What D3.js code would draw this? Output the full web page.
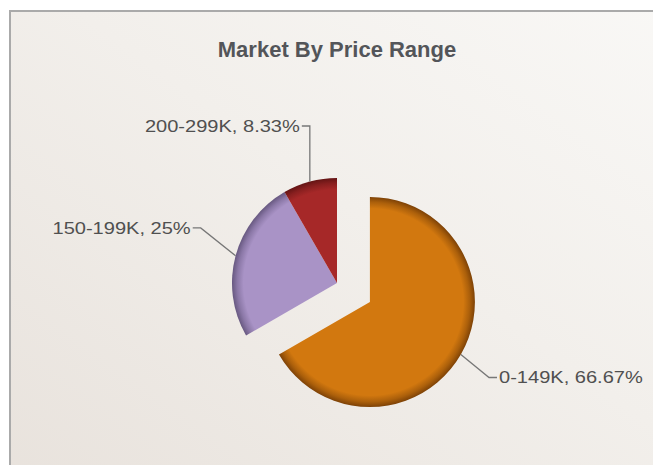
<!DOCTYPE html>
<html>
<head>
<meta charset="utf-8">
<script src="https://cdn.jsdelivr.net/npm/d3@7"></script>
<style>
  body { margin: 0; background: #fff; }
  svg { display: block; }
</style>
</head>
<body>
<div class="pie-chart-container"></div>
<script>
// chart data
const categories = ['0-149K', '150-199K', '200-299K'];
const shares = [66.67, 25, 8.33];
const chartTitle = 'Market By Price Range';

// slice styles
const sliceColors = ['#d2780f', '#a993c6', '#a62828'];
const rimColors = ['#7e4206', '#675880', '#641414'];

// layout
const width = 653;
const height = 465;
const center = {x: 337, y: 283};
const radius = 105;
const explodeIndex = 0;
const explodeDist = 38;
const labelRadius = 147;
const labelNudgeX = [-7, 0, 0];
const labelNudgeY = [2, -17, -15];

const svg = d3.select('.pie-chart-container')
  .append('svg')
  .attr('width', width)
  .attr('height', height);

const defs = svg.append('defs');

// panel background
const bg = defs.append('linearGradient')
  .attr('id', 'panel-bg')
  .attr('x1', 0).attr('y1', 1)
  .attr('x2', 1).attr('y2', 0);
bg.append('stop').attr('offset', '0%').attr('stop-color', '#e8e2dc');
bg.append('stop').attr('offset', '55%').attr('stop-color', '#f2efeb');
bg.append('stop').attr('offset', '100%').attr('stop-color', '#f9f8f6');

svg.append('rect')
  .attr('x', 10)
  .attr('y', 11)
  .attr('width', width + 20)
  .attr('height', height + 20)
  .attr('fill', 'url(#panel-bg)')
  .attr('stroke', '#aaa')
  .attr('stroke-width', 2);

// title
svg.append('text')
  .attr('x', center.x)
  .attr('y', 57)
  .attr('text-anchor', 'middle')
  .style('font-family', '"Liberation Sans", Arial, sans-serif')
  .style('font-weight', 'bold')
  .style('font-size', '22px')
  .style('fill', '#535559')
  .text(chartTitle);

// pie layout, clockwise from 12 o'clock
const data = categories.map((c, i) => ({category: c, share: shares[i], index: i}));

const pie = d3.pie()
  .sort(null)
  .value(d => d.share);

const arcs = pie(data);

const arc = d3.arc()
  .innerRadius(0)
  .outerRadius(radius);

// rim shading gradients
arcs.forEach((a, i) => {
  const g = defs.append('radialGradient')
    .attr('id', `rim-${i}`)
    .attr('gradientUnits', 'userSpaceOnUse')
    .attr('cx', 0).attr('cy', 0).attr('r', radius);
  g.append('stop').attr('offset', '0%').attr('stop-color', sliceColors[i]);
  g.append('stop').attr('offset', '89%').attr('stop-color', sliceColors[i]);
  g.append('stop').attr('offset', '95%').attr('stop-color', d3.interpolateRgb(sliceColors[i], rimColors[i])(0.45));
  g.append('stop').attr('offset', '100%').attr('stop-color', rimColors[i]);
});

const midAngle = a => (a.startAngle + a.endAngle) / 2;

// center of each slice after exploding
const sliceCenter = a => {
  if (a.index !== explodeIndex) return {x: center.x, y: center.y};
  const m = midAngle(a);
  return {
    x: center.x + Math.sin(m) * explodeDist,
    y: center.y - Math.cos(m) * explodeDist
  };
};

const pieChart = svg.append('g').attr('class', 'pie-chart');

pieChart.selectAll('.slice')
  .data(arcs)
  .join('g')
  .attr('class', 'slice')
  .attr('transform', a => {
    const c = sliceCenter(a);
    return `translate(${c.x}, ${c.y})`;
  })
  .append('path')
  .attr('d', arc)
  .attr('fill', (a, i) => `url(#rim-${i})`);

// labels and connectors
const labels = svg.append('g').attr('class', 'labels');

arcs.forEach((a, i) => {
  const c = sliceCenter(a);
  const m = midAngle(a);
  const right = Math.sin(m) > 0;
  const edge = {x: c.x + Math.sin(m) * radius, y: c.y - Math.cos(m) * radius};

  // label y from the label circle, then place x back on that circle
  const ly = c.y - Math.cos(m) * labelRadius + labelNudgeY[i];
  const dy = ly - c.y;
  const span = Math.sqrt(Math.max(0, labelRadius * labelRadius - dy * dy));
  let ex = right ? c.x + span : c.x - span;
  ex = right ? Math.max(edge.x, ex) : Math.min(edge.x, ex);
  ex += labelNudgeX[i];
  const dir = right ? 1 : -1;

  labels.append('path')
    .attr('d', `M${edge.x},${edge.y}L${ex},${ly}L${ex + dir * 8},${ly}`)
    .attr('fill', 'none')
    .attr('stroke', '#777')
    .attr('stroke-width', 1.3);

  labels.append('g')
    .attr('transform', `translate(${ex + dir * 10}, ${ly}) scale(1.18, 1)`)
    .append('text')
    .attr('dy', '0.35em')
    .attr('text-anchor', right ? 'start' : 'end')
    .style('font-family', '"Liberation Sans", Arial, sans-serif')
    .style('font-size', '17px')
    .style('fill', '#505050')
    .text(`${a.data.category}, ${a.data.share}%`);
});
</script>
</body>
</html>
